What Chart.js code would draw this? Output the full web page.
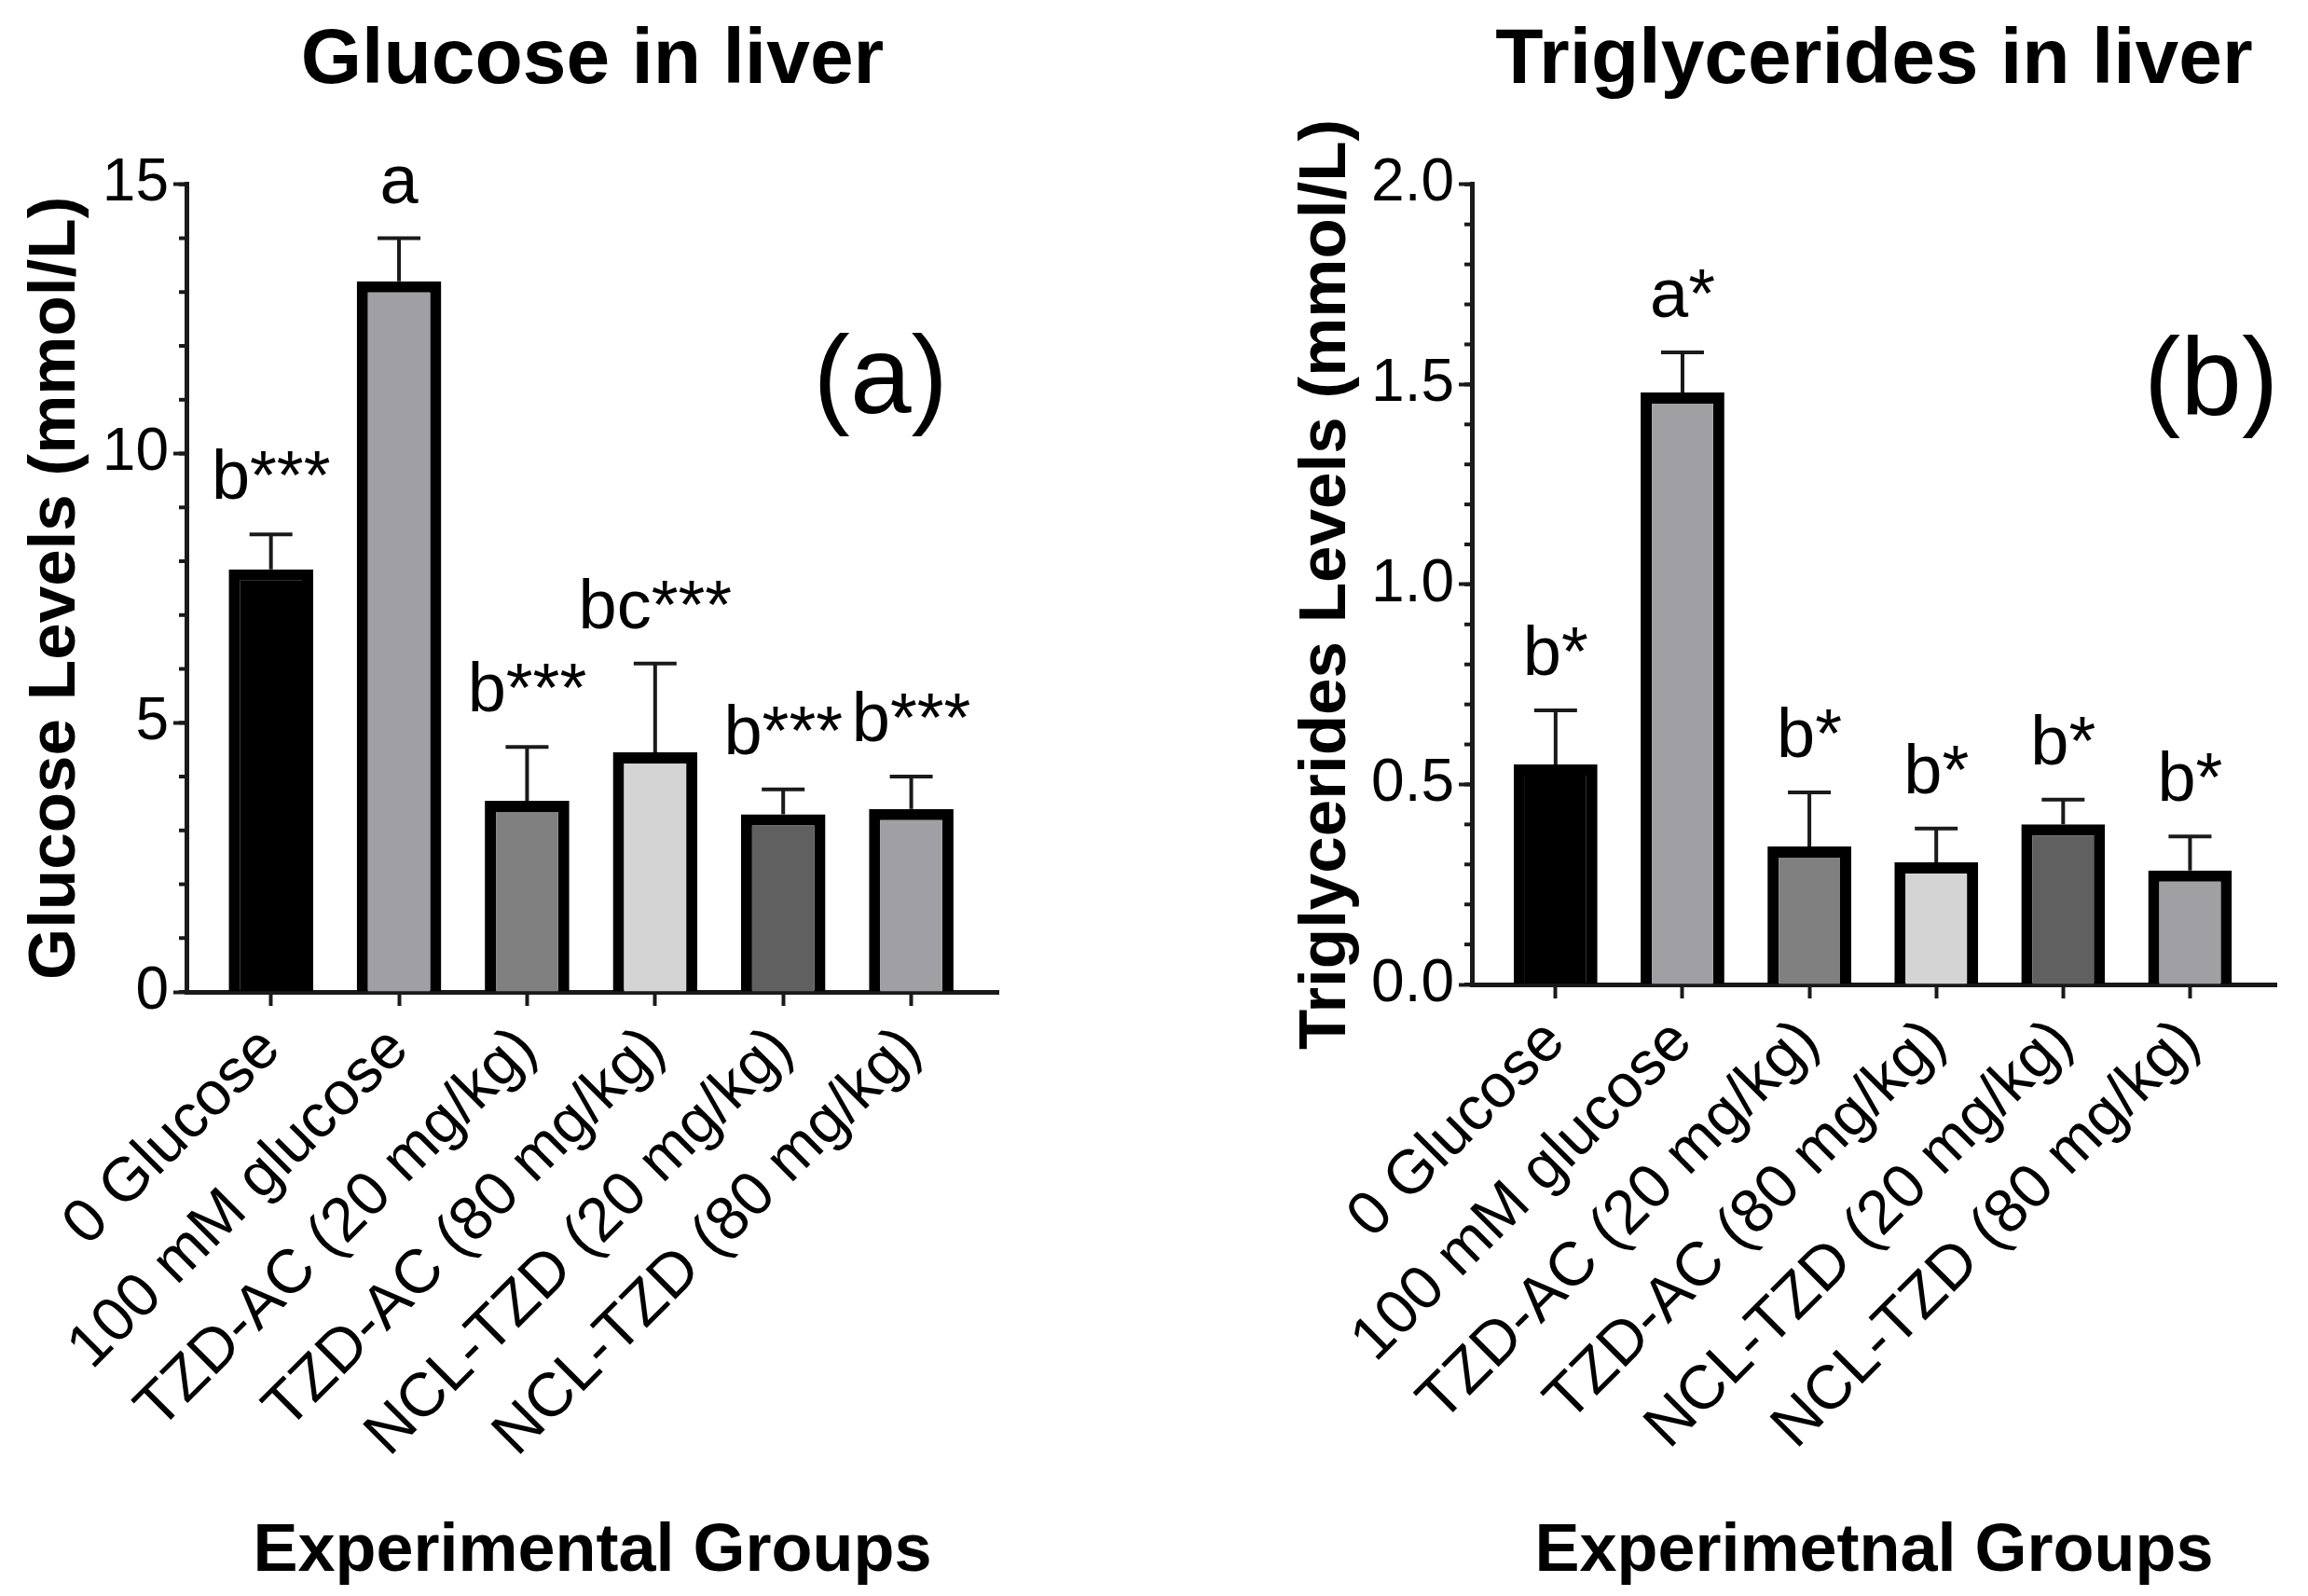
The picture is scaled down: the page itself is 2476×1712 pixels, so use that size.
<!DOCTYPE html>
<html>
<head>
<meta charset="utf-8">
<script src="https://cdn.jsdelivr.net/npm/chart.js@4.4.1/dist/chart.umd.min.js"></script>
<style>
  html, body { margin: 0; padding: 0; background: #fff; }
  body { width: 2476px; height: 1712px; position: relative; overflow: hidden; }
  canvas { position: absolute; top: 0; }
  #glucoseChart { left: 0; }
  #trigChart { left: 1238px; }
</style>
</head>
<body>
<canvas id="glucoseChart" width="1238" height="1712"></canvas>
<canvas id="trigChart" width="1238" height="1712"></canvas>
<script>
// groups on the x axis (same for both panels)
const groups = ['0 Glucose', '100 mM glucose', 'TZD-AC (20 mg/kg)', 'TZD-AC (80 mg/kg)', 'NCL-TZD (20 mg/kg)', 'NCL-TZD (80 mg/kg)'];

// panel (a) glucose, mmol/L
const glucoseMean = [7.85, 13.2, 3.55, 4.45, 3.3, 3.4];
const glucoseErr = [0.65, 0.8, 1.0, 1.65, 0.46, 0.6];
const glucoseLetters = ['b***', 'a', 'b***', 'bc***', 'b***', 'b***'];
const glucoseTicks = [0, 5, 10, 15];

// panel (b) triglycerides, mmol/L
const trigMean = [0.55, 1.48, 0.345, 0.305, 0.40, 0.285];
const trigErr = [0.135, 0.10, 0.135, 0.085, 0.062, 0.085];
const trigLetters = ['b*', 'a*', 'b*', 'b*', 'b*', 'b*'];
const trigTicks = ['0.0', '0.5', '1.0', '1.5', '2.0'];

const barFills = ['#000000', '#a0a0a4', '#808080', '#d4d4d4', '#606060', '#a0a0a4'];
const axisColor = '#1a1a1a';

Chart.defaults.font.family = "'Liberation Sans', Arial, sans-serif";
Chart.defaults.color = '#000';

// error whiskers, minor ticks, significance letters and panel tag
const extrasPlugin = {
  id: 'extras',
  afterDatasetsDraw(chart, args, opts) {
    const ctx = chart.ctx;
    const xs = chart.scales.x, ys = chart.scales.y;
    const area = chart.chartArea;
    ctx.save();
    ctx.strokeStyle = axisColor;
    ctx.lineWidth = 4;

    const n = Math.round((ys.max - ys.min) / opts.minorStep);
    for (let k = 0; k <= n; k++) {
      const py = ys.getPixelForValue(ys.min + k * opts.minorStep);
      ctx.beginPath();
      ctx.moveTo(area.left - 8, py);
      ctx.lineTo(area.left, py);
      ctx.stroke();
    }

    ctx.fillStyle = '#000';
    ctx.textAlign = 'center';
    ctx.textBaseline = 'alphabetic';
    ctx.font = "74px 'Liberation Sans', Arial, sans-serif";
    opts.means.forEach((m, i) => {
      const px = xs.getPixelForValue(i);
      const yBar = ys.getPixelForValue(m);
      const yTop = ys.getPixelForValue(m + opts.errs[i]);
      ctx.beginPath();
      ctx.moveTo(px, yBar);
      ctx.lineTo(px, yTop);
      ctx.moveTo(px - 23, yTop);
      ctx.lineTo(px + 23, yTop);
      ctx.stroke();
      ctx.fillText(opts.letters[i], px, yTop - 38);
    });

    ctx.font = "118px 'Liberation Sans', Arial, sans-serif";
    ctx.textBaseline = 'middle';
    ctx.fillText(opts.tag,
      area.left + opts.tagX * (area.right - area.left),
      area.top + opts.tagY * (area.bottom - area.top));
    ctx.restore();
  }
};

function makePanel(id, p) {
  return new Chart(document.getElementById(id), {
    type: 'bar',
    data: {
      datasets: [{
        data: p.means.map((v, i) => ({x: i, y: v})),
        backgroundColor: barFills,
        borderColor: '#000',
        borderWidth: 12,
        categoryPercentage: 1,
        barPercentage: 0.66
      }]
    },
    options: {
      responsive: false,
      animation: false,
      layout: {padding: {left: 0, right: p.padRight, top: 0, bottom: 0}},
      plugins: {
        legend: {display: false},
        tooltip: {enabled: false},
        title: {
          display: true,
          text: p.title,
          fullSize: false,
          color: '#000',
          font: {size: 84, weight: 'bold'},
          padding: {top: 15, bottom: 82}
        },
        extras: {
          means: p.means,
          errs: p.errs,
          letters: p.letters,
          minorStep: p.minorStep,
          tag: p.tag,
          tagX: p.tagX,
          tagY: p.tagY
        }
      },
      scales: {
        x: {
          type: 'linear',
          offset: false,
          min: -0.66,
          max: 5.68,
          afterBuildTicks: s => { s.ticks = groups.map((g, i) => ({value: i})); },
          afterFit: s => { s.height = p.xHeight; },
          border: {display: true, color: axisColor, width: 5},
          grid: {offset: false, drawOnChartArea: false, tickLength: 15, tickWidth: 4, tickColor: axisColor},
          ticks: {
            autoSkip: false,
            minRotation: 45,
            maxRotation: 45,
            padding: 8,
            color: '#000',
            font: {size: 66},
            callback: v => groups[v]
          },
          title: {
            display: true,
            text: p.xTitle,
            color: '#000',
            font: {size: 72, weight: 'bold'},
            padding: {top: 0, bottom: 4}
          }
        },
        y: {
          min: 0,
          max: Number(p.yTicks[p.yTicks.length - 1]),
          afterBuildTicks: s => { s.ticks = p.yTicks.map(t => ({value: Number(t)})); },
          afterFit: s => { s.width = p.yWidth; },
          border: {display: true, color: axisColor, width: 5},
          grid: {drawOnChartArea: false, tickLength: 14, tickWidth: 4, tickColor: axisColor},
          ticks: {
            padding: 5,
            color: '#000',
            font: {size: 64},
            callback: (v, i) => String(p.yTicks[i])
          },
          title: {
            display: true,
            text: p.yTitle,
            color: '#000',
            font: {size: 71, weight: 'bold'},
            padding: {top: p.yTitlePad, bottom: 0}
          }
        }
      }
    },
    plugins: [extrasPlugin]
  });
}

makePanel('glucoseChart', {
  title: 'Glucose in liver',
  xTitle: 'Experimental Groups',
  yTitle: 'Glucose Levels (mmol/L)',
  means: glucoseMean,
  errs: glucoseErr,
  letters: glucoseLetters,
  yTicks: glucoseTicks,
  minorStep: 1,
  tag: '(a)',
  tagX: 0.855,
  tagY: 0.245,
  yWidth: 200,
  yTitlePad: 18,
  padRight: 167,
  xHeight: 648
});

makePanel('trigChart', {
  title: 'Triglycerides in liver',
  xTitle: 'Experimetnal Groups',
  yTitle: 'Triglycerides Levels (mmol/L)',
  means: trigMean,
  errs: trigErr,
  letters: trigLetters,
  yTicks: trigTicks,
  minorStep: 0.1,
  tag: '(b)',
  tagX: 0.919,
  tagY: 0.25,
  yWidth: 341,
  yTitlePad: 143,
  padRight: 34,
  xHeight: 656
});
</script>
</body>
</html>
